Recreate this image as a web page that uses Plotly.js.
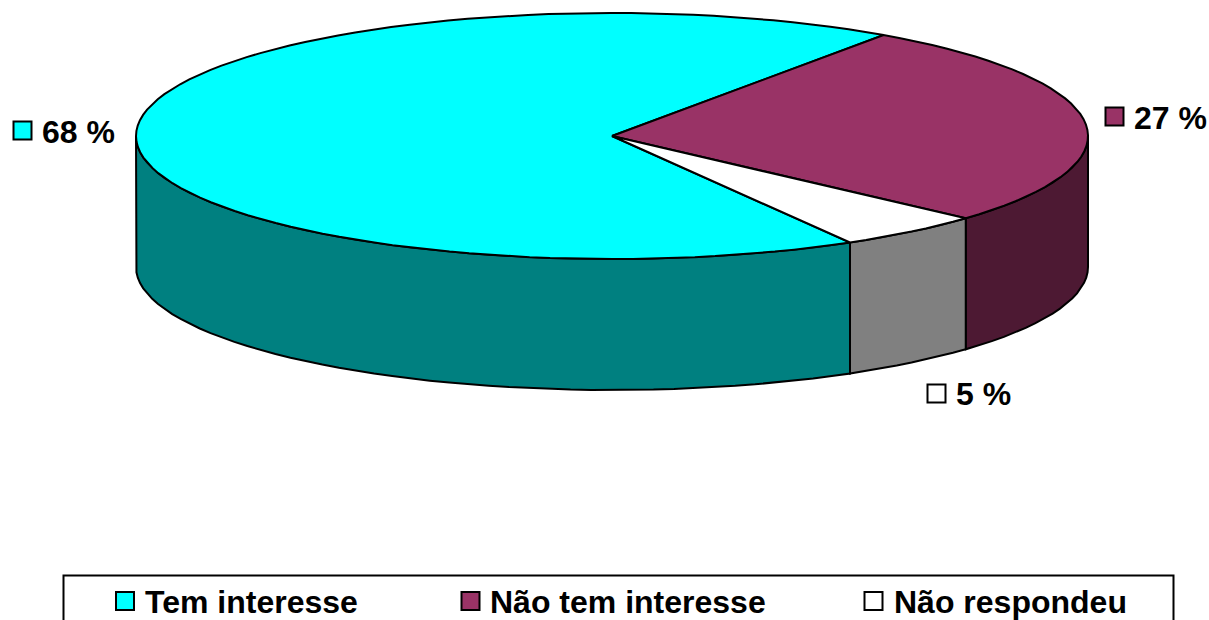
<!DOCTYPE html>
<html>
<head>
<meta charset="utf-8">
<script src="https://cdn.plot.ly/plotly-3.0.1.min.js"></script>
<style>html,body{margin:0;padding:0;background:#fff;overflow:hidden}#chart{width:1209px;height:620px}</style>
</head>
<body>
<div id="chart"></div>
<script>
// Data
const categories = ["Tem interesse", "Não tem interesse", "Não respondeu"];
const values = [68, 27, 5];
const topColors = ["#00FFFF", "#993366", "#FFFFFF"];
const sideColors = ["#008080", "#4D1933", "#808080"];

// Pie geometry (pixel-based axes)
const CX = 612, CY = 136, RX = 476, RY = 123, DEPTH = 131;
const START_DEG = 150.0;        // clockwise from north, where the first slice begins
const STEP = 2.5;
const FONT = "Liberation Sans, Arial, sans-serif";
const FONT_SIZE = 32;

const labelPos = [
  {sx: 22.5, sy: 130.5, tx: 41.5, ty: 131.5},
  {sx: 1114.5, sy: 116.5, tx: 1133.5, ty: 117.5},
  {sx: 936.5, sy: 393.5, tx: 955.5, ty: 394}
];
const legendPos = [
  {sx: 125, tx: 144.5},
  {sx: 470.5, tx: 489.5},
  {sx: 873.5, tx: 893.5}
];
const LEGEND_SY = 601, LEGEND_TY = 602;

function px(a) { return CX + RX * Math.sin(a * Math.PI / 180); }
function py(a) { return CY - RY * Math.cos(a * Math.PI / 180); }
function arc(a0, a1) {
  const out = [];
  const n = Math.max(1, Math.ceil((a1 - a0) / STEP));
  for (let i = 0; i <= n; i++) out.push(a0 + (a1 - a0) * i / n);
  return out;
}
const total = values.reduce((s, v) => s + v, 0);
let cursor = START_DEG;
const spans = values.map(v => {
  const a0 = cursor, a1 = cursor + v / total * 360;
  cursor = a1;
  return [a0, a1];
});

const traces = [];
function poly(xs, ys, fill, name) {
  traces.push({
    type: "scatter", mode: "lines", x: xs, y: ys, name: name,
    fill: "toself", fillcolor: fill,
    line: {color: "#000", width: 2, shape: "linear"},
    hoverinfo: "skip", showlegend: false
  });
}
// Side wall: only the front half of the rim (90..270 degrees) is seen
spans.forEach((s, i) => {
  const ranges = [[s[0], s[1]], [s[0] - 360, s[1] - 360]];
  ranges.forEach(r => {
    const a0 = Math.max(r[0], 90), a1 = Math.min(r[1], 270);
    if (a1 <= a0) return;
    const rim = arc(a0, a1);
    const xs = rim.map(px).concat(rim.slice().reverse().map(px));
    const ys = rim.map(a => py(a)).concat(rim.slice().reverse().map(a => py(a) + DEPTH));
    xs.push(xs[0]); ys.push(ys[0]);
    poly(xs, ys, sideColors[i], categories[i] + " (lateral)");
  });
});
// Top wedges
spans.forEach((s, i) => {
  const rim = arc(s[0], s[1]);
  poly([CX].concat(rim.map(px), [CX]), [CY].concat(rim.map(py), [CY]), topColors[i], categories[i]);
});
// Swatches
const swatch = (x, y, c, name) => traces.push({
  type: "scatter", mode: "markers", x: [x], y: [y], name: name,
  marker: {symbol: "square", size: 18, color: c, line: {color: "#000", width: 2}},
  hoverinfo: "skip", showlegend: false
});
categories.forEach((c, i) => {
  swatch(labelPos[i].sx, labelPos[i].sy, topColors[i], c + " rótulo");
  swatch(legendPos[i].sx, LEGEND_SY, topColors[i], c);
});

const annotations = [];
const note = (x, y, text) => annotations.push({
  x: x, y: y, xref: "x", yref: "y", text: text, showarrow: false,
  xanchor: "left", yanchor: "middle", xshift: 0, yshift: 0, borderpad: 0, borderwidth: 0,
  font: {family: FONT, size: FONT_SIZE, color: "#000", weight: 700}
});
categories.forEach((c, i) => {
  note(labelPos[i].tx, labelPos[i].ty, values[i] + " %");
  note(legendPos[i].tx, LEGEND_TY, c);
});

const layout = {
  width: 1209, height: 620,
  margin: {l: 0, r: 0, t: 0, b: 0},
  paper_bgcolor: "#fff", plot_bgcolor: "#fff",
  xaxis: {range: [0, 1209], visible: false, fixedrange: true},
  yaxis: {range: [620, 0], visible: false, fixedrange: true},
  showlegend: false, hovermode: false,
  shapes: [{type: "rect", xref: "x", yref: "y", x0: 63.5, x1: 1173.5, y0: 575.5, y1: 640,
            line: {color: "#000", width: 2}, fillcolor: "#fff", layer: "below"}],
  annotations: annotations
};
Plotly.newPlot("chart", traces, layout, {displayModeBar: false, responsive: false});
</script>
</body>
</html>
